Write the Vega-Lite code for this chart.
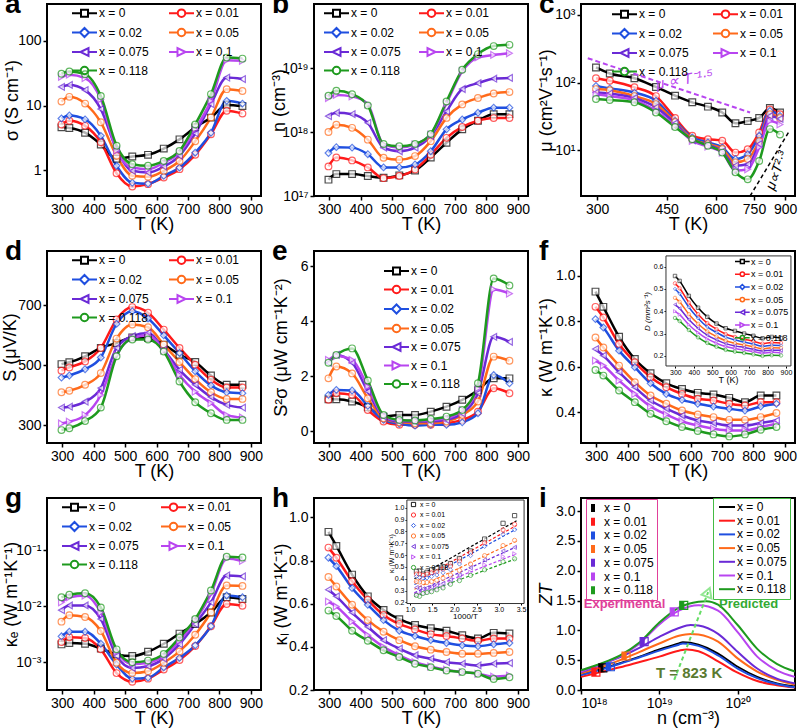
{
"$schema":"https://vega.github.io/schema/vega-lite/v6.json",
"padding":{"left":0,"top":-10,"right":2,"bottom":0},
"background":"white",
"datasets":{
"main":[
{"x":"x = 0","T":298,"sig":4.6,"n":1.8e17,"mu":167,"S":503,"PF":1.17,"k":0.931,"ke":0.00208,"kl":0.933,"D":0.558,"it":3.356},
{"x":"x = 0","T":323,"sig":4.5,"n":2.2e17,"mu":136,"S":509,"PF":1.17,"k":0.864,"ke":0.0022,"kl":0.868,"D":0.536,"it":3.096},
{"x":"x = 0","T":373,"sig":3.8,"n":2.2e17,"mu":116,"S":529,"PF":1.09,"k":0.732,"ke":0.00214,"kl":0.735,"D":0.469,"it":2.681},
{"x":"x = 0","T":423,"sig":2.5,"n":2.05e17,"mu":86,"S":557,"PF":0.88,"k":0.634,"ke":0.00176,"kl":0.634,"D":0.416,"it":2.364},
{"x":"x = 0","T":473,"sig":1.5,"n":1.93e17,"mu":64,"S":573,"PF":0.54,"k":0.571,"ke":0.00138,"kl":0.571,"D":0.375,"it":2.114},
{"x":"x = 0","T":523,"sig":1.63,"n":2.1e17,"mu":51,"S":592,"PF":0.6,"k":0.527,"ke":0.00129,"kl":0.528,"D":0.345,"it":1.912},
{"x":"x = 0","T":573,"sig":1.73,"n":2.5e17,"mu":44,"S":590,"PF":0.6,"k":0.502,"ke":0.00154,"kl":0.501,"D":0.324,"it":1.745},
{"x":"x = 0","T":623,"sig":2.16,"n":4e17,"mu":36,"S":568,"PF":0.72,"k":0.485,"ke":0.00214,"kl":0.486,"D":0.312,"it":1.605},
{"x":"x = 0","T":673,"sig":3.0,"n":6.8e17,"mu":25,"S":534,"PF":0.9,"k":0.478,"ke":0.00324,"kl":0.475,"D":0.3,"it":1.486},
{"x":"x = 0","T":723,"sig":4.6,"n":1.1e18,"mu":27,"S":510,"PF":1.15,"k":0.463,"ke":0.0048,"kl":0.454,"D":0.29,"it":1.383},
{"x":"x = 0","T":773,"sig":6.5,"n":1.5e18,"mu":30,"S":465,"PF":1.5,"k":0.444,"ke":0.0077,"kl":0.439,"D":0.279,"it":1.294},
{"x":"x = 0","T":823,"sig":10.2,"n":1.9e18,"mu":42,"S":434,"PF":1.93,"k":0.473,"ke":0.0144,"kl":0.465,"D":0.285,"it":1.215},
{"x":"x = 0","T":873,"sig":9.8,"n":1.9e18,"mu":36,"S":434,"PF":1.93,"k":0.473,"ke":0.0134,"kl":0.462,"D":0.28,"it":1.145},
{"x":"x = 0.01","T":298,"sig":5.1,"n":2.9e17,"mu":116,"S":481,"PF":1.15,"k":0.864,"ke":0.0023,"kl":0.86,"D":0.525,"it":3.356},
{"x":"x = 0.01","T":323,"sig":5.8,"n":4e17,"mu":106,"S":492,"PF":1.39,"k":0.817,"ke":0.0028,"kl":0.813,"D":0.503,"it":3.096},
{"x":"x = 0.01","T":373,"sig":4.85,"n":3.6e17,"mu":85,"S":512,"PF":1.33,"k":0.70,"ke":0.0027,"kl":0.704,"D":0.439,"it":2.681},
{"x":"x = 0.01","T":423,"sig":2.7,"n":2.8e17,"mu":63,"S":557,"PF":0.78,"k":0.62,"ke":0.0017,"kl":0.618,"D":0.387,"it":2.364},
{"x":"x = 0.01","T":473,"sig":0.9,"n":1.9e17,"mu":30,"S":652,"PF":0.36,"k":0.554,"ke":0.00064,"kl":0.548,"D":0.347,"it":2.114},
{"x":"x = 0.01","T":523,"sig":0.56,"n":2.05e17,"mu":16.3,"S":693,"PF":0.24,"k":0.51,"ke":0.00045,"kl":0.506,"D":0.32,"it":1.912},
{"x":"x = 0.01","T":573,"sig":0.61,"n":2.6e17,"mu":14.5,"S":674,"PF":0.24,"k":0.48,"ke":0.00051,"kl":0.481,"D":0.298,"it":1.745},
{"x":"x = 0.01","T":623,"sig":0.77,"n":4.4e17,"mu":13.8,"S":618,"PF":0.24,"k":0.459,"ke":0.00074,"kl":0.459,"D":0.285,"it":1.605},
{"x":"x = 0.01","T":673,"sig":1.04,"n":8.1e17,"mu":9.2,"S":557,"PF":0.3,"k":0.451,"ke":0.0011,"kl":0.45,"D":0.275,"it":1.486},
{"x":"x = 0.01","T":723,"sig":1.73,"n":1.2e18,"mu":10.3,"S":501,"PF":0.42,"k":0.437,"ke":0.00194,"kl":0.439,"D":0.266,"it":1.383},
{"x":"x = 0.01","T":773,"sig":3.6,"n":1.5e18,"mu":18.3,"S":451,"PF":0.72,"k":0.429,"ke":0.0044,"kl":0.428,"D":0.255,"it":1.294},
{"x":"x = 0.01","T":823,"sig":8.3,"n":1.65e18,"mu":40,"S":425,"PF":1.57,"k":0.444,"ke":0.0109,"kl":0.439,"D":0.26,"it":1.215},
{"x":"x = 0.01","T":873,"sig":7.5,"n":1.65e18,"mu":34,"S":425,"PF":1.39,"k":0.444,"ke":0.0102,"kl":0.439,"D":0.258,"it":1.145},
{"x":"x = 0.02","T":298,"sig":6.3,"n":4.7e17,"mu":89,"S":458,"PF":1.33,"k":0.81,"ke":0.0029,"kl":0.813,"D":0.5,"it":3.356},
{"x":"x = 0.02","T":323,"sig":7.0,"n":5.8e17,"mu":82,"S":465,"PF":1.51,"k":0.773,"ke":0.0035,"kl":0.774,"D":0.479,"it":3.096},
{"x":"x = 0.02","T":373,"sig":6.1,"n":5.7e17,"mu":71,"S":486,"PF":1.49,"k":0.671,"ke":0.0035,"kl":0.673,"D":0.418,"it":2.681},
{"x":"x = 0.02","T":423,"sig":3.4,"n":4.5e17,"mu":54,"S":525,"PF":0.93,"k":0.598,"ke":0.00214,"kl":0.595,"D":0.369,"it":2.364},
{"x":"x = 0.02","T":473,"sig":1.17,"n":2.8e17,"mu":27,"S":637,"PF":0.42,"k":0.527,"ke":0.00091,"kl":0.524,"D":0.33,"it":2.114},
{"x":"x = 0.02","T":523,"sig":0.64,"n":2.8e17,"mu":15.4,"S":679,"PF":0.28,"k":0.48,"ke":0.00051,"kl":0.475,"D":0.305,"it":1.912},
{"x":"x = 0.02","T":573,"sig":0.62,"n":3.1e17,"mu":13,"S":655,"PF":0.21,"k":0.454,"ke":0.00053,"kl":0.45,"D":0.284,"it":1.745},
{"x":"x = 0.02","T":623,"sig":0.82,"n":5e17,"mu":11,"S":599,"PF":0.24,"k":0.437,"ke":0.00081,"kl":0.431,"D":0.271,"it":1.605},
{"x":"x = 0.02","T":673,"sig":1.1,"n":1.1e18,"mu":7.4,"S":540,"PF":0.24,"k":0.425,"ke":0.0012,"kl":0.418,"D":0.262,"it":1.486},
{"x":"x = 0.02","T":723,"sig":1.87,"n":1.57e18,"mu":8.7,"S":479,"PF":0.33,"k":0.415,"ke":0.002,"kl":0.407,"D":0.253,"it":1.383},
{"x":"x = 0.02","T":773,"sig":3.8,"n":2e18,"mu":16.3,"S":432,"PF":0.66,"k":0.407,"ke":0.0044,"kl":0.403,"D":0.243,"it":1.294},
{"x":"x = 0.02","T":823,"sig":11.8,"n":2.4e18,"mu":38,"S":409,"PF":2.05,"k":0.425,"ke":0.0155,"kl":0.412,"D":0.248,"it":1.215},
{"x":"x = 0.02","T":873,"sig":10.7,"n":2.4e18,"mu":32,"S":406,"PF":1.75,"k":0.437,"ke":0.0144,"kl":0.418,"D":0.247,"it":1.145},
{"x":"x = 0.05","T":298,"sig":11.5,"n":1e18,"mu":80,"S":409,"PF":1.93,"k":0.729,"ke":0.0053,"kl":0.724,"D":0.46,"it":3.356},
{"x":"x = 0.05","T":323,"sig":13.6,"n":1.3e18,"mu":77,"S":414,"PF":2.36,"k":0.685,"ke":0.0069,"kl":0.68,"D":0.442,"it":3.096},
{"x":"x = 0.05","T":373,"sig":10.7,"n":1.16e18,"mu":63,"S":434,"PF":2.11,"k":0.605,"ke":0.0064,"kl":0.595,"D":0.387,"it":2.681},
{"x":"x = 0.05","T":423,"sig":5.5,"n":7.6e17,"mu":48,"S":473,"PF":1.21,"k":0.532,"ke":0.0036,"kl":0.524,"D":0.344,"it":2.364},
{"x":"x = 0.05","T":473,"sig":1.67,"n":3.96e17,"mu":26,"S":588,"PF":0.48,"k":0.473,"ke":0.00098,"kl":0.47,"D":0.31,"it":2.114},
{"x":"x = 0.05","T":523,"sig":0.82,"n":3.7e17,"mu":14.5,"S":635,"PF":0.33,"k":0.437,"ke":0.00064,"kl":0.431,"D":0.287,"it":1.912},
{"x":"x = 0.05","T":573,"sig":0.79,"n":4.2e17,"mu":12.3,"S":626,"PF":0.3,"k":0.407,"ke":0.00069,"kl":0.403,"D":0.268,"it":1.745},
{"x":"x = 0.05","T":623,"sig":0.98,"n":7.2e17,"mu":10.4,"S":568,"PF":0.3,"k":0.39,"ke":0.00098,"kl":0.387,"D":0.257,"it":1.605},
{"x":"x = 0.05","T":673,"sig":1.39,"n":1.66e18,"mu":6.6,"S":510,"PF":0.36,"k":0.378,"ke":0.00156,"kl":0.376,"D":0.249,"it":1.486},
{"x":"x = 0.05","T":723,"sig":2.8,"n":2.7e18,"mu":7.4,"S":453,"PF":0.6,"k":0.366,"ke":0.0031,"kl":0.368,"D":0.241,"it":1.383},
{"x":"x = 0.05","T":773,"sig":6.5,"n":3.4e18,"mu":13.7,"S":409,"PF":1.09,"k":0.366,"ke":0.0077,"kl":0.368,"D":0.232,"it":1.294},
{"x":"x = 0.05","T":823,"sig":17.9,"n":4e18,"mu":34,"S":387,"PF":2.72,"k":0.378,"ke":0.0234,"kl":0.372,"D":0.237,"it":1.215},
{"x":"x = 0.05","T":873,"sig":16.8,"n":4.2e18,"mu":30,"S":387,"PF":2.57,"k":0.396,"ke":0.023,"kl":0.376,"D":0.236,"it":1.145},
{"x":"x = 0.075","T":298,"sig":19.4,"n":1.77e18,"mu":71,"S":358,"PF":2.5,"k":0.678,"ke":0.0085,"kl":0.665,"D":0.43,"it":3.356},
{"x":"x = 0.075","T":323,"sig":20.8,"n":2e18,"mu":69,"S":361,"PF":2.78,"k":0.649,"ke":0.0103,"kl":0.634,"D":0.413,"it":3.096},
{"x":"x = 0.075","T":373,"sig":17.3,"n":1.9e18,"mu":59,"S":378,"PF":2.5,"k":0.576,"ke":0.0103,"kl":0.559,"D":0.363,"it":2.681},
{"x":"x = 0.075","T":423,"sig":8.8,"n":1.39e18,"mu":43,"S":423,"PF":1.45,"k":0.51,"ke":0.0059,"kl":0.493,"D":0.324,"it":2.364},
{"x":"x = 0.075","T":473,"sig":2.1,"n":5.7e17,"mu":25,"S":557,"PF":0.54,"k":0.451,"ke":0.00129,"kl":0.431,"D":0.293,"it":2.114},
{"x":"x = 0.075","T":523,"sig":0.98,"n":5e17,"mu":14,"S":596,"PF":0.36,"k":0.415,"ke":0.00079,"kl":0.392,"D":0.272,"it":1.912},
{"x":"x = 0.075","T":573,"sig":0.92,"n":5.7e17,"mu":12,"S":607,"PF":0.36,"k":0.385,"ke":0.00085,"kl":0.361,"D":0.255,"it":1.745},
{"x":"x = 0.075","T":623,"sig":1.14,"n":8.6e17,"mu":9.6,"S":551,"PF":0.36,"k":0.363,"ke":0.00116,"kl":0.345,"D":0.245,"it":1.605},
{"x":"x = 0.075","T":673,"sig":1.67,"n":2.1e18,"mu":5.9,"S":484,"PF":0.42,"k":0.352,"ke":0.0021,"kl":0.329,"D":0.238,"it":1.486},
{"x":"x = 0.075","T":723,"sig":3.7,"n":4.7e18,"mu":6.2,"S":434,"PF":0.66,"k":0.341,"ke":0.0048,"kl":0.322,"D":0.23,"it":1.383},
{"x":"x = 0.075","T":773,"sig":10.5,"n":5.8e18,"mu":12.3,"S":393,"PF":1.39,"k":0.341,"ke":0.0117,"kl":0.314,"D":0.222,"it":1.294},
{"x":"x = 0.075","T":823,"sig":27,"n":6.8e18,"mu":32,"S":367,"PF":3.44,"k":0.352,"ke":0.0354,"kl":0.322,"D":0.226,"it":1.215},
{"x":"x = 0.075","T":873,"sig":25.6,"n":7e18,"mu":29,"S":358,"PF":3.26,"k":0.363,"ke":0.034,"kl":0.325,"D":0.225,"it":1.145},
{"x":"x = 0.1","T":298,"sig":27.8,"n":3.4e18,"mu":67,"S":305,"PF":2.6,"k":0.627,"ke":0.0117,"kl":0.61,"D":0.4,"it":3.356},
{"x":"x = 0.1","T":323,"sig":30,"n":3.8e18,"mu":63,"S":311,"PF":2.74,"k":0.605,"ke":0.0144,"kl":0.587,"D":0.385,"it":3.096},
{"x":"x = 0.1","T":373,"sig":26.5,"n":3.6e18,"mu":55,"S":333,"PF":2.6,"k":0.539,"ke":0.0155,"kl":0.517,"D":0.34,"it":2.681},
{"x":"x = 0.1","T":423,"sig":12.5,"n":2.7e18,"mu":38,"S":400,"PF":1.63,"k":0.48,"ke":0.0077,"kl":0.454,"D":0.304,"it":2.364},
{"x":"x = 0.1","T":473,"sig":2.0,"n":6.4e17,"mu":23,"S":534,"PF":0.57,"k":0.425,"ke":0.00156,"kl":0.4,"D":0.276,"it":2.114},
{"x":"x = 0.1","T":523,"sig":1.1,"n":5.7e17,"mu":13.7,"S":590,"PF":0.4,"k":0.39,"ke":0.00093,"kl":0.361,"D":0.257,"it":1.912},
{"x":"x = 0.1","T":573,"sig":1.04,"n":6.4e17,"mu":11.3,"S":599,"PF":0.4,"k":0.36,"ke":0.00098,"kl":0.329,"D":0.242,"it":1.745},
{"x":"x = 0.1","T":623,"sig":1.31,"n":9.1e17,"mu":9.2,"S":548,"PF":0.42,"k":0.341,"ke":0.00129,"kl":0.309,"D":0.233,"it":1.605},
{"x":"x = 0.1","T":673,"sig":1.87,"n":2.8e18,"mu":5.0,"S":467,"PF":0.48,"k":0.327,"ke":0.0024,"kl":0.294,"D":0.226,"it":1.486},
{"x":"x = 0.1","T":723,"sig":4.3,"n":8.9e18,"mu":5.2,"S":411,"PF":0.78,"k":0.319,"ke":0.0055,"kl":0.283,"D":0.22,"it":1.383},
{"x":"x = 0.1","T":773,"sig":11.8,"n":1.46e19,"mu":11,"S":373,"PF":1.57,"k":0.319,"ke":0.0166,"kl":0.275,"D":0.212,"it":1.294},
{"x":"x = 0.1","T":823,"sig":50,"n":1.6e19,"mu":27,"S":333,"PF":5.16,"k":0.334,"ke":0.071,"kl":0.262,"D":0.216,"it":1.215},
{"x":"x = 0.1","T":873,"sig":49,"n":1.7e19,"mu":24,"S":325,"PF":5.01,"k":0.349,"ke":0.064,"kl":0.267,"D":0.214,"it":1.145},
{"x":"x = 0.118","T":298,"sig":31,"n":3.7e18,"mu":57,"S":283,"PF":2.5,"k":0.586,"ke":0.0144,"kl":0.568,"D":0.37,"it":3.356},
{"x":"x = 0.118","T":323,"sig":33.6,"n":4.4e18,"mu":55,"S":289,"PF":2.78,"k":0.561,"ke":0.016,"kl":0.543,"D":0.356,"it":3.096},
{"x":"x = 0.118","T":373,"sig":30.5,"n":3.9e18,"mu":51,"S":313,"PF":3.02,"k":0.495,"ke":0.017,"kl":0.475,"D":0.316,"it":2.681},
{"x":"x = 0.118","T":423,"sig":14,"n":2.6e18,"mu":36,"S":358,"PF":1.85,"k":0.444,"ke":0.0095,"kl":0.428,"D":0.283,"it":2.364},
{"x":"x = 0.118","T":473,"sig":2.4,"n":6.5e17,"mu":22,"S":529,"PF":0.6,"k":0.393,"ke":0.0017,"kl":0.384,"D":0.258,"it":2.114},
{"x":"x = 0.118","T":523,"sig":1.24,"n":6e17,"mu":14.5,"S":585,"PF":0.42,"k":0.36,"ke":0.001,"kl":0.353,"D":0.241,"it":1.912},
{"x":"x = 0.118","T":573,"sig":1.17,"n":6.5e17,"mu":11.6,"S":585,"PF":0.4,"k":0.334,"ke":0.00107,"kl":0.322,"D":0.227,"it":1.745},
{"x":"x = 0.118","T":623,"sig":1.39,"n":9.3e17,"mu":9.2,"S":545,"PF":0.45,"k":0.317,"ke":0.00141,"kl":0.306,"D":0.219,"it":1.605},
{"x":"x = 0.118","T":673,"sig":1.99,"n":3e18,"mu":4.7,"S":445,"PF":0.54,"k":0.302,"ke":0.00275,"kl":0.29,"D":0.213,"it":1.486},
{"x":"x = 0.118","T":723,"sig":5.1,"n":9.4e18,"mu":3.7,"S":376,"PF":0.78,"k":0.293,"ke":0.0059,"kl":0.283,"D":0.207,"it":1.383},
{"x":"x = 0.118","T":773,"sig":15,"n":1.65e19,"mu":6.9,"S":339,"PF":1.75,"k":0.302,"ke":0.019,"kl":0.275,"D":0.2,"it":1.294},
{"x":"x = 0.118","T":823,"sig":55,"n":2.2e19,"mu":20.5,"S":317,"PF":5.56,"k":0.322,"ke":0.076,"kl":0.251,"D":0.203,"it":1.215},
{"x":"x = 0.118","T":873,"sig":53,"n":2.3e19,"mu":17,"S":317,"PF":5.31,"k":0.334,"ke":0.074,"kl":0.259,"D":0.202,"it":1.145}
],
"fits":[
{"x":"x = 0","it":1.1,"kl":0.40},{"x":"x = 0","it":3.4,"kl":0.89},
{"x":"x = 0.01","it":1.1,"kl":0.37},{"x":"x = 0.01","it":3.4,"kl":0.85},
{"x":"x = 0.02","it":1.1,"kl":0.35},{"x":"x = 0.02","it":3.4,"kl":0.82},
{"x":"x = 0.05","it":1.1,"kl":0.31},{"x":"x = 0.05","it":3.4,"kl":0.72},
{"x":"x = 0.075","it":1.1,"kl":0.28},{"x":"x = 0.075","it":3.4,"kl":0.67},
{"x":"x = 0.1","it":1.1,"kl":0.27},{"x":"x = 0.1","it":3.4,"kl":0.61},
{"x":"x = 0.118","it":1.1,"kl":0.25},{"x":"x = 0.118","it":3.4,"kl":0.57}
],
"zt":[
{"xp":"x = 0","n":1e18,"zt":0.26},{"xp":"x = 0","n":1.778e18,"zt":0.35},{"xp":"x = 0","n":3.162e18,"zt":0.45},{"xp":"x = 0","n":5.623e18,"zt":0.56},{"xp":"x = 0","n":1e19,"zt":0.68},{"xp":"x = 0","n":1.778e19,"zt":0.78},{"xp":"x = 0","n":1.995e19,"zt":0.8},{"xp":"x = 0","n":3.162e19,"zt":0.76},{"xp":"x = 0","n":5.623e19,"zt":0.61},{"xp":"x = 0","n":1e20,"zt":0.39},{"xp":"x = 0","n":1.778e20,"zt":0.22},{"xp":"x = 0","n":3.162e20,"zt":0.11},{"xp":"x = 0","n":5.37e20,"zt":0.06},
{"xp":"x = 0.01","n":1e18,"zt":0.22},{"xp":"x = 0.01","n":1.778e18,"zt":0.30},{"xp":"x = 0.01","n":3.162e18,"zt":0.38},{"xp":"x = 0.01","n":5.623e18,"zt":0.47},{"xp":"x = 0.01","n":1e19,"zt":0.56},{"xp":"x = 0.01","n":1.778e19,"zt":0.66},{"xp":"x = 0.01","n":2.239e19,"zt":0.68},{"xp":"x = 0.01","n":3.162e19,"zt":0.65},{"xp":"x = 0.01","n":5.623e19,"zt":0.48},{"xp":"x = 0.01","n":1e20,"zt":0.29},{"xp":"x = 0.01","n":1.778e20,"zt":0.15},{"xp":"x = 0.01","n":3.162e20,"zt":0.08},{"xp":"x = 0.01","n":5.37e20,"zt":0.04},
{"xp":"x = 0.02","n":1e18,"zt":0.25},{"xp":"x = 0.02","n":1.778e18,"zt":0.34},{"xp":"x = 0.02","n":3.162e18,"zt":0.44},{"xp":"x = 0.02","n":5.623e18,"zt":0.55},{"xp":"x = 0.02","n":1e19,"zt":0.66},{"xp":"x = 0.02","n":1.778e19,"zt":0.76},{"xp":"x = 0.02","n":1.995e19,"zt":0.78},{"xp":"x = 0.02","n":3.162e19,"zt":0.74},{"xp":"x = 0.02","n":5.623e19,"zt":0.58},{"xp":"x = 0.02","n":1e20,"zt":0.36},{"xp":"x = 0.02","n":1.778e20,"zt":0.2},{"xp":"x = 0.02","n":3.162e20,"zt":0.1},{"xp":"x = 0.02","n":5.37e20,"zt":0.045},
{"xp":"x = 0.05","n":1e18,"zt":0.28},{"xp":"x = 0.05","n":1.778e18,"zt":0.38},{"xp":"x = 0.05","n":3.162e18,"zt":0.5},{"xp":"x = 0.05","n":5.623e18,"zt":0.64},{"xp":"x = 0.05","n":1e19,"zt":0.78},{"xp":"x = 0.05","n":1.778e19,"zt":0.91},{"xp":"x = 0.05","n":2.512e19,"zt":0.94},{"xp":"x = 0.05","n":3.162e19,"zt":0.93},{"xp":"x = 0.05","n":5.623e19,"zt":0.81},{"xp":"x = 0.05","n":1e20,"zt":0.53},{"xp":"x = 0.05","n":1.778e20,"zt":0.31},{"xp":"x = 0.05","n":3.162e20,"zt":0.17},{"xp":"x = 0.05","n":5.37e20,"zt":0.09},
{"xp":"x = 0.075","n":1e18,"zt":0.3},{"xp":"x = 0.075","n":1.778e18,"zt":0.42},{"xp":"x = 0.075","n":3.162e18,"zt":0.55},{"xp":"x = 0.075","n":5.623e18,"zt":0.71},{"xp":"x = 0.075","n":1e19,"zt":0.89},{"xp":"x = 0.075","n":1.778e19,"zt":1.04},{"xp":"x = 0.075","n":2.512e19,"zt":1.09},{"xp":"x = 0.075","n":3.162e19,"zt":1.08},{"xp":"x = 0.075","n":5.623e19,"zt":0.94},{"xp":"x = 0.075","n":1e20,"zt":0.64},{"xp":"x = 0.075","n":1.778e20,"zt":0.36},{"xp":"x = 0.075","n":3.162e20,"zt":0.19},{"xp":"x = 0.075","n":5.37e20,"zt":0.11},
{"xp":"x = 0.1","n":1e18,"zt":0.31},{"xp":"x = 0.1","n":1.778e18,"zt":0.43},{"xp":"x = 0.1","n":3.162e18,"zt":0.57},{"xp":"x = 0.1","n":5.623e18,"zt":0.78},{"xp":"x = 0.1","n":1e19,"zt":1.1},{"xp":"x = 0.1","n":1.778e19,"zt":1.33},{"xp":"x = 0.1","n":3.162e19,"zt":1.42},{"xp":"x = 0.1","n":5.623e19,"zt":1.33},{"xp":"x = 0.1","n":1e20,"zt":0.97},{"xp":"x = 0.1","n":1.778e20,"zt":0.56},{"xp":"x = 0.1","n":3.162e20,"zt":0.33},{"xp":"x = 0.1","n":5.37e20,"zt":0.22},
{"xp":"x = 0.118","n":1e18,"zt":0.33},{"xp":"x = 0.118","n":1.778e18,"zt":0.44},{"xp":"x = 0.118","n":3.162e18,"zt":0.58},{"xp":"x = 0.118","n":5.623e18,"zt":0.8},{"xp":"x = 0.118","n":1e19,"zt":1.13},{"xp":"x = 0.118","n":1.778e19,"zt":1.38},{"xp":"x = 0.118","n":3.162e19,"zt":1.48},{"xp":"x = 0.118","n":3.981e19,"zt":1.49},{"xp":"x = 0.118","n":5.623e19,"zt":1.43},{"xp":"x = 0.118","n":1e20,"zt":1.09},{"xp":"x = 0.118","n":1.778e20,"zt":0.69},{"xp":"x = 0.118","n":3.162e20,"zt":0.44},{"xp":"x = 0.118","n":5.37e20,"zt":0.31}
],
"zte":[
{"xe":"x = 0","n":1.9e18,"zt":0.37},{"xe":"x = 0.01","n":1.55e18,"zt":0.3},{"xe":"x = 0.02","n":2.37e18,"zt":0.39},{"xe":"x = 0.05","n":3.76e18,"zt":0.57},{"xe":"x = 0.075","n":6.4e18,"zt":0.81},{"xe":"x = 0.1","n":1.55e19,"zt":1.31},{"xe":"x = 0.118","n":2.05e19,"zt":1.42}
],
"plines":[
{"g":"v","T":284,"mu":229},{"g":"v","T":733,"mu":36},
{"g":"k","T":733,"mu":2.1},{"g":"k","T":917,"mu":18.2}
],
"notesc":[{"T":500,"mu":112,"lab":"μ ∝ T⁻¹·⁵","c":"v"},{"T":858,"mu":5.0,"lab":"μ∝T²·³","c":"k"}],
"notesi":[{"n":2.4e19,"zt":0.28,"lab":"T = 823 K"},{"n":3.6e18,"zt":1.44,"lab":"Experimental"},{"n":1.38e20,"zt":1.44,"lab":"Predicted"}],
"arrow":[{"n":1.55e19,"zt":0.17},{"n":4.2e19,"zt":1.64}]
},
"config":{
"font":"Liberation Sans",
"view":{"stroke":"black","strokeWidth":2},
"axis":{"grid":false,"domain":false,"labelFont":"Liberation Sans","titleFont":"Liberation Sans","labelFontSize":14,"titleFontSize":18,"titleFontWeight":"normal","labelColor":"black","titleColor":"black","tickColor":"black","tickSize":4,"tickWidth":1.5,"labelPadding":2,"titlePadding":1,"labelOverlap":false},
"axisBottom":{"titlePadding":-1},
"legend":{"labelFont":"Liberation Sans","labelFontSize":12,"labelColor":"black","padding":0,"rowPadding":2.5,"columnPadding":16,"labelOffset":16,"symbolStrokeWidth":2,"symbolSize":100},
"title":{"font":"Liberation Sans","fontSize":28,"fontWeight":"bold","anchor":"start","frame":"group","offset":0,"dx":-42,"dy":19,"baseline":"alphabetic","color":"black"}
},
"resolve":{"scale":{"color":"independent","shape":"independent","stroke":"independent"},"legend":{"color":"independent","shape":"independent","stroke":"independent"}},
"concat":[
{"title":{"text":"a"},"width":214,"height":192,"data":{"name":"main"},
 "encoding":{"x":{"field":"T","type":"quantitative","scale":{"domain":[252,932],"nice":false},"axis":{"values":[300,400,500,600,700,800,900],"title":"T (K)"}}},
 "layer":[
  {"mark":{"type":"line","interpolate":"monotone","strokeWidth":2.5},
   "encoding":{"y":{"field":"sig","type":"quantitative","scale":{"type":"log","domain":[0.4,370],"nice":false},"axis":{"values":[1,10,100],"format":"d","title":"σ (S cm⁻¹)","titleX":-35,"titleY":96,"titleBaseline":"middle"}},
    "color":{"field":"x","type":"nominal","scale":{"domain":["x = 0","x = 0.01","x = 0.02","x = 0.05","x = 0.075","x = 0.1","x = 0.118"],"range":["#000000","#ff1a1a","#1f4fe0","#ff6a1a","#6a2ad6","#b845f0","#1e9a1e"]},"legend":{"title":null,"orient":"none","legendX":24,"legendY":3,"columns":2,"direction":"horizontal","symbolSize":100,"columnPadding":16,"rowPadding":2.5,"labelOffset":16}}}},
  {"mark":{"type":"point","filled":false,"fill":"white","size":45,"strokeWidth":1.2},
   "encoding":{"y":{"field":"sig","type":"quantitative"},"color":{"field":"x","type":"nominal","legend":null},
    "shape":{"condition":[{"test":"datum.x=='x = 0'","value":"square"},{"test":"datum.x=='x = 0.02'","value":"diamond"},{"test":"datum.x=='x = 0.075'","value":"triangle-left"},{"test":"datum.x=='x = 0.1'","value":"triangle-right"}],"value":"circle"}}},
  {"transform":[{"filter":"false"}],"mark":{"type":"point","filled":false,"strokeWidth":2},
   "encoding":{"y":{"field":"sig","type":"quantitative"},"color":{"field":"x","type":"nominal","legend":null},
    "shape":{"field":"x","type":"nominal","scale":{"domain":["x = 0","x = 0.01","x = 0.02","x = 0.05","x = 0.075","x = 0.1","x = 0.118"],"range":["M-1,0H0.8M2.2,0H4M0.8,-0.7H2.2V0.7H0.8Z","M-1,0H0.75M2.25,0H4M0.75,0A0.75,0.75 0 1,0 2.25,0A0.75,0.75 0 1,0 0.75,0Z","M-1,0H0.6M2.4,0H4M0.6,0L1.5,-0.9L2.4,0L1.5,0.9Z","M-1,0H0.75M2.25,0H4M0.75,0A0.75,0.75 0 1,0 2.25,0A0.75,0.75 0 1,0 0.75,0Z","M-1,0H0.7M2.3,0H4M0.7,0L2.3,-0.8L2.3,0.8Z","M-1,0H0.7M2.3,0H4M2.3,0L0.7,-0.8L0.7,0.8Z","M-1,0H0.75M2.25,0H4M0.75,0A0.75,0.75 0 1,0 2.25,0A0.75,0.75 0 1,0 0.75,0Z"]},"legend":null}}}
 ]},
{"title":{"text":"b"},"width":214,"height":192,"data":{"name":"main"},
 "encoding":{"x":{"field":"T","type":"quantitative","scale":{"domain":[252,932],"nice":false},"axis":{"values":[300,400,500,600,700,800,900],"title":"T (K)"}}},
 "layer":[
  {"mark":{"type":"line","interpolate":"monotone","strokeWidth":2.5},
   "encoding":{"y":{"field":"n","type":"quantitative","scale":{"type":"log","domain":[1e17,1e20],"nice":false},"axis":{"values":[1e17,1e18,1e19],"labelExpr":"datum.value<5e17?'10¹⁷':datum.value<5e18?'10¹⁸':'10¹⁹'","title":"n (cm⁻³)","titleX":-35,"titleY":96,"titleBaseline":"middle"}},
    "color":{"field":"x","type":"nominal","scale":{"domain":["x = 0","x = 0.01","x = 0.02","x = 0.05","x = 0.075","x = 0.1","x = 0.118"],"range":["#000000","#ff1a1a","#1f4fe0","#ff6a1a","#6a2ad6","#b845f0","#1e9a1e"]},"legend":{"title":null,"orient":"none","legendX":9,"legendY":3,"columns":2,"direction":"horizontal","symbolSize":100,"columnPadding":14,"rowPadding":2.5,"labelOffset":16}}}},
  {"mark":{"type":"point","filled":false,"fill":"white","size":45,"strokeWidth":1.2},
   "encoding":{"y":{"field":"n","type":"quantitative"},"color":{"field":"x","type":"nominal","legend":null},
    "shape":{"condition":[{"test":"datum.x=='x = 0'","value":"square"},{"test":"datum.x=='x = 0.02'","value":"diamond"},{"test":"datum.x=='x = 0.075'","value":"triangle-left"},{"test":"datum.x=='x = 0.1'","value":"triangle-right"}],"value":"circle"}}},
  {"transform":[{"filter":"false"}],"mark":{"type":"point","filled":false,"strokeWidth":2},
   "encoding":{"y":{"field":"n","type":"quantitative"},"color":{"field":"x","type":"nominal","legend":null},
    "shape":{"field":"x","type":"nominal","scale":{"domain":["x = 0","x = 0.01","x = 0.02","x = 0.05","x = 0.075","x = 0.1","x = 0.118"],"range":["M-1,0H0.8M2.2,0H4M0.8,-0.7H2.2V0.7H0.8Z","M-1,0H0.75M2.25,0H4M0.75,0A0.75,0.75 0 1,0 2.25,0A0.75,0.75 0 1,0 0.75,0Z","M-1,0H0.6M2.4,0H4M0.6,0L1.5,-0.9L2.4,0L1.5,0.9Z","M-1,0H0.75M2.25,0H4M0.75,0A0.75,0.75 0 1,0 2.25,0A0.75,0.75 0 1,0 0.75,0Z","M-1,0H0.7M2.3,0H4M0.7,0L2.3,-0.8L2.3,0.8Z","M-1,0H0.7M2.3,0H4M2.3,0L0.7,-0.8L0.7,0.8Z","M-1,0H0.75M2.25,0H4M0.75,0A0.75,0.75 0 1,0 2.25,0A0.75,0.75 0 1,0 0.75,0Z"]},"legend":null}}}
 ]},
{"title":{"text":"c"},"width":214,"height":192,
 "encoding":{"x":{"field":"T","type":"quantitative","scale":{"type":"log","domain":[273,953],"nice":false},"axis":{"values":[300,450,600,750,900],"title":"T (K)"}}},
 "layer":[
  {"data":{"name":"main"},"mark":{"type":"line","interpolate":"monotone","strokeWidth":2.5},
   "encoding":{"y":{"field":"mu","type":"quantitative","scale":{"type":"log","domain":[2.1,1450],"nice":false},"axis":{"values":[10,100,1000],"labelExpr":"datum.value<50?'10¹':datum.value<500?'10²':'10³'","title":"μ (cm²V⁻¹s⁻¹)","titleX":-35,"titleY":96,"titleBaseline":"middle"}},
    "color":{"field":"x","type":"nominal","scale":{"domain":["x = 0","x = 0.01","x = 0.02","x = 0.05","x = 0.075","x = 0.1","x = 0.118"],"range":["#000000","#ff1a1a","#1f4fe0","#ff6a1a","#6a2ad6","#b845f0","#1e9a1e"]},"legend":{"title":null,"orient":"none","legendX":30,"legendY":4,"columns":2,"direction":"horizontal","symbolSize":100,"columnPadding":20,"rowPadding":2.5,"labelOffset":16}}}},
  {"data":{"name":"main"},"mark":{"type":"point","filled":false,"fill":"white","size":45,"strokeWidth":1.2},
   "encoding":{"y":{"field":"mu","type":"quantitative"},"color":{"field":"x","type":"nominal","legend":null},
    "shape":{"condition":[{"test":"datum.x=='x = 0'","value":"square"},{"test":"datum.x=='x = 0.02'","value":"diamond"},{"test":"datum.x=='x = 0.075'","value":"triangle-left"},{"test":"datum.x=='x = 0.1'","value":"triangle-right"}],"value":"circle"}}},
  {"data":{"name":"main"},"transform":[{"filter":"false"}],"mark":{"type":"point","filled":false,"strokeWidth":2},
   "encoding":{"y":{"field":"mu","type":"quantitative"},"color":{"field":"x","type":"nominal","legend":null},
    "shape":{"field":"x","type":"nominal","scale":{"domain":["x = 0","x = 0.01","x = 0.02","x = 0.05","x = 0.075","x = 0.1","x = 0.118"],"range":["M-1,0H0.8M2.2,0H4M0.8,-0.7H2.2V0.7H0.8Z","M-1,0H0.75M2.25,0H4M0.75,0A0.75,0.75 0 1,0 2.25,0A0.75,0.75 0 1,0 0.75,0Z","M-1,0H0.6M2.4,0H4M0.6,0L1.5,-0.9L2.4,0L1.5,0.9Z","M-1,0H0.75M2.25,0H4M0.75,0A0.75,0.75 0 1,0 2.25,0A0.75,0.75 0 1,0 0.75,0Z","M-1,0H0.7M2.3,0H4M0.7,0L2.3,-0.8L2.3,0.8Z","M-1,0H0.7M2.3,0H4M2.3,0L0.7,-0.8L0.7,0.8Z","M-1,0H0.75M2.25,0H4M0.75,0A0.75,0.75 0 1,0 2.25,0A0.75,0.75 0 1,0 0.75,0Z"]},"legend":null}}},
  {"data":{"name":"plines"},"transform":[{"filter":"datum.g=='v'"}],"mark":{"type":"line","color":"#b845f0","strokeDash":[5,3],"strokeWidth":2,"clip":true},
   "encoding":{"y":{"field":"mu","type":"quantitative"}}},
  {"data":{"name":"plines"},"transform":[{"filter":"datum.g=='k'"}],"mark":{"type":"line","color":"black","strokeDash":[4,3],"strokeWidth":1.5,"clip":true},
   "encoding":{"y":{"field":"mu","type":"quantitative"}}},
  {"data":{"name":"notesc"},"transform":[{"filter":"datum.c=='v'"}],"mark":{"type":"text","color":"#b845f0","fontSize":15,"fontStyle":"italic","angle":350},
   "encoding":{"y":{"field":"mu","type":"quantitative"},"text":{"field":"lab","type":"nominal"}}},
  {"data":{"name":"notesc"},"transform":[{"filter":"datum.c=='k'"}],"mark":{"type":"text","color":"black","fontSize":14,"fontStyle":"italic","angle":290},
   "encoding":{"y":{"field":"mu","type":"quantitative"},"text":{"field":"lab","type":"nominal"}}}
 ]},
{"title":{"text":"d"},"width":214,"height":192,"data":{"name":"main"},
 "encoding":{"x":{"field":"T","type":"quantitative","scale":{"domain":[252,932],"nice":false},"axis":{"values":[300,400,500,600,700,800,900],"title":"T (K)"}}},
 "layer":[
  {"mark":{"type":"line","interpolate":"monotone","strokeWidth":2.5},
   "encoding":{"y":{"field":"S","type":"quantitative","scale":{"domain":[240,880],"nice":false},"axis":{"values":[300,400,500,600,700,800],"title":"S (μV/K)","titleX":-37,"titleY":96,"titleBaseline":"middle"}},
    "color":{"field":"x","type":"nominal","scale":{"domain":["x = 0","x = 0.01","x = 0.02","x = 0.05","x = 0.075","x = 0.1","x = 0.118"],"range":["#000000","#ff1a1a","#1f4fe0","#ff6a1a","#6a2ad6","#b845f0","#1e9a1e"]},"legend":{"title":null,"orient":"none","legendX":24,"legendY":3,"columns":2,"direction":"horizontal","symbolSize":100,"columnPadding":16,"rowPadding":2.5,"labelOffset":16}}}},
  {"mark":{"type":"point","filled":false,"fill":"white","size":45,"strokeWidth":1.2},
   "encoding":{"y":{"field":"S","type":"quantitative"},"color":{"field":"x","type":"nominal","legend":null},
    "shape":{"condition":[{"test":"datum.x=='x = 0'","value":"square"},{"test":"datum.x=='x = 0.02'","value":"diamond"},{"test":"datum.x=='x = 0.075'","value":"triangle-left"},{"test":"datum.x=='x = 0.1'","value":"triangle-right"}],"value":"circle"}}},
  {"transform":[{"filter":"false"}],"mark":{"type":"point","filled":false,"strokeWidth":2},
   "encoding":{"y":{"field":"S","type":"quantitative"},"color":{"field":"x","type":"nominal","legend":null},
    "shape":{"field":"x","type":"nominal","scale":{"domain":["x = 0","x = 0.01","x = 0.02","x = 0.05","x = 0.075","x = 0.1","x = 0.118"],"range":["M-1,0H0.8M2.2,0H4M0.8,-0.7H2.2V0.7H0.8Z","M-1,0H0.75M2.25,0H4M0.75,0A0.75,0.75 0 1,0 2.25,0A0.75,0.75 0 1,0 0.75,0Z","M-1,0H0.6M2.4,0H4M0.6,0L1.5,-0.9L2.4,0L1.5,0.9Z","M-1,0H0.75M2.25,0H4M0.75,0A0.75,0.75 0 1,0 2.25,0A0.75,0.75 0 1,0 0.75,0Z","M-1,0H0.7M2.3,0H4M0.7,0L2.3,-0.8L2.3,0.8Z","M-1,0H0.7M2.3,0H4M2.3,0L0.7,-0.8L0.7,0.8Z","M-1,0H0.75M2.25,0H4M0.75,0A0.75,0.75 0 1,0 2.25,0A0.75,0.75 0 1,0 0.75,0Z"]},"legend":null}}}
 ]},
{"title":{"text":"e"},"width":214,"height":192,"data":{"name":"main"},
 "encoding":{"x":{"field":"T","type":"quantitative","scale":{"domain":[252,932],"nice":false},"axis":{"values":[300,400,500,600,700,800,900],"title":"T (K)"}}},
 "layer":[
  {"mark":{"type":"line","interpolate":"monotone","strokeWidth":2.5},
   "encoding":{"y":{"field":"PF","type":"quantitative","scale":{"domain":[-0.42,6.56],"nice":false},"axis":{"values":[0,2,4,6],"title":"S²σ (μW cm⁻¹K⁻²)","titleX":-33,"titleY":96,"titleBaseline":"middle"}},
    "color":{"field":"x","type":"nominal","scale":{"domain":["x = 0","x = 0.01","x = 0.02","x = 0.05","x = 0.075","x = 0.1","x = 0.118"],"range":["#000000","#ff1a1a","#1f4fe0","#ff6a1a","#6a2ad6","#b845f0","#1e9a1e"]},"legend":{"title":null,"orient":"none","legendX":69,"legendY":14,"columns":1,"symbolSize":100,"rowPadding":2.5,"labelOffset":16}}}},
  {"mark":{"type":"point","filled":false,"fill":"white","size":45,"strokeWidth":1.2},
   "encoding":{"y":{"field":"PF","type":"quantitative"},"color":{"field":"x","type":"nominal","legend":null},
    "shape":{"condition":[{"test":"datum.x=='x = 0'","value":"square"},{"test":"datum.x=='x = 0.02'","value":"diamond"},{"test":"datum.x=='x = 0.075'","value":"triangle-left"},{"test":"datum.x=='x = 0.1'","value":"triangle-right"}],"value":"circle"}}},
  {"transform":[{"filter":"false"}],"mark":{"type":"point","filled":false,"strokeWidth":2},
   "encoding":{"y":{"field":"PF","type":"quantitative"},"color":{"field":"x","type":"nominal","legend":null},
    "shape":{"field":"x","type":"nominal","scale":{"domain":["x = 0","x = 0.01","x = 0.02","x = 0.05","x = 0.075","x = 0.1","x = 0.118"],"range":["M-1,0H0.8M2.2,0H4M0.8,-0.7H2.2V0.7H0.8Z","M-1,0H0.75M2.25,0H4M0.75,0A0.75,0.75 0 1,0 2.25,0A0.75,0.75 0 1,0 0.75,0Z","M-1,0H0.6M2.4,0H4M0.6,0L1.5,-0.9L2.4,0L1.5,0.9Z","M-1,0H0.75M2.25,0H4M0.75,0A0.75,0.75 0 1,0 2.25,0A0.75,0.75 0 1,0 0.75,0Z","M-1,0H0.7M2.3,0H4M0.7,0L2.3,-0.8L2.3,0.8Z","M-1,0H0.7M2.3,0H4M2.3,0L0.7,-0.8L0.7,0.8Z","M-1,0H0.75M2.25,0H4M0.75,0A0.75,0.75 0 1,0 2.25,0A0.75,0.75 0 1,0 0.75,0Z"]},"legend":null}}}
 ]},
{"title":{"text":"f"},"width":214,"height":192,"data":{"name":"main"},
 "resolve":{"scale":{"x":"independent","y":"independent"}},
 "layer":[
  {"mark":{"type":"line","interpolate":"monotone","strokeWidth":2.5},
   "encoding":{"x":{"field":"T","type":"quantitative","scale":{"domain":[252,932],"nice":false},"axis":{"values":[300,400,500,600,700,800,900],"title":"T (K)","orient":"bottom"}},
    "y":{"field":"k","type":"quantitative","scale":{"domain":[0.264,1.11],"nice":false},"axis":{"values":[0.4,0.6,0.8,1.0],"format":".1f","title":"κ (W m⁻¹K⁻¹)","orient":"left","titleX":-35,"titleY":96,"titleBaseline":"middle"}},
    "color":{"field":"x","type":"nominal","scale":{"domain":["x = 0","x = 0.01","x = 0.02","x = 0.05","x = 0.075","x = 0.1","x = 0.118"],"range":["#000000","#ff1a1a","#1f4fe0","#ff6a1a","#6a2ad6","#b845f0","#1e9a1e"]},"legend":{"title":null,"orient":"none","legendX":153,"legendY":6,"columns":1,"symbolSize":49,"labelFontSize":9,"rowPadding":1.7,"labelOffset":8,"symbolStrokeWidth":1.5}}}},
  {"mark":{"type":"point","filled":false,"fill":"white","size":45,"strokeWidth":1.2},
   "encoding":{"x":{"field":"T","type":"quantitative","scale":{"domain":[252,932],"nice":false},"axis":null},
    "y":{"field":"k","type":"quantitative","scale":{"domain":[0.264,1.11],"nice":false},"axis":null},
    "color":{"field":"x","type":"nominal","legend":null},
    "shape":{"condition":[{"test":"datum.x=='x = 0'","value":"square"},{"test":"datum.x=='x = 0.02'","value":"diamond"},{"test":"datum.x=='x = 0.075'","value":"triangle-left"},{"test":"datum.x=='x = 0.1'","value":"triangle-right"}],"value":"circle"}}},
  {"data":{"values":[{}]},"mark":{"type":"rect","fill":"white","stroke":"#333333","strokeWidth":1},
   "encoding":{"x":{"datum":249,"type":"quantitative","scale":{"domain":[-212,949],"nice":false},"axis":{"orient":"bottom","offset":-77,"values":[300,400,500,600,700,800,900],"labelFontSize":7,"tickSize":2,"tickWidth":1,"labelPadding":0,"title":"T (K)","titleFontSize":9,"titleX":147,"titleY":9,"titleBaseline":"top"}},
    "x2":{"datum":927},
    "y":{"datum":0.155,"type":"quantitative","scale":{"domain":[-0.19,0.67],"nice":false},"axis":{"orient":"left","offset":-85,"values":[0.2,0.3,0.4,0.5,0.6],"format":".1f","labelFontSize":7,"tickSize":2,"tickWidth":1,"labelPadding":1,"title":"D (mm²s⁻¹)","titleFontSize":8,"titleFontStyle":"italic","titleX":-19,"titleY":60,"titleBaseline":"middle"}},
    "y2":{"datum":0.648}}},
  {"mark":{"type":"line","interpolate":"monotone","strokeWidth":1.5},
   "encoding":{"x":{"field":"T","type":"quantitative","scale":{"domain":[-212,949],"nice":false},"axis":null},"y":{"field":"D","type":"quantitative","scale":{"domain":[-0.19,0.67],"nice":false},"axis":null},
    "color":{"field":"x","type":"nominal","legend":null}}},
  {"mark":{"type":"point","filled":false,"fill":"white","size":12,"strokeWidth":0.8},
   "encoding":{"x":{"field":"T","type":"quantitative","scale":{"domain":[-212,949],"nice":false},"axis":null},"y":{"field":"D","type":"quantitative","scale":{"domain":[-0.19,0.67],"nice":false},"axis":null},
    "color":{"field":"x","type":"nominal","legend":null},
    "shape":{"condition":[{"test":"datum.x=='x = 0'","value":"square"},{"test":"datum.x=='x = 0.02'","value":"diamond"},{"test":"datum.x=='x = 0.075'","value":"triangle-left"},{"test":"datum.x=='x = 0.1'","value":"triangle-right"}],"value":"circle"}}},
  {"transform":[{"filter":"false"}],"mark":{"type":"point","filled":false,"strokeWidth":1.5},
   "encoding":{"x":{"field":"T","type":"quantitative","axis":null},"y":{"field":"D","type":"quantitative","axis":null},
    "color":{"field":"x","type":"nominal","legend":null},
    "shape":{"field":"x","type":"nominal","scale":{"domain":["x = 0","x = 0.01","x = 0.02","x = 0.05","x = 0.075","x = 0.1","x = 0.118"],"range":["M-1,0H0.55M1.65,0H3.2M0.55,-0.55H1.65V0.55H0.55Z","M-1,0H0.5M1.7,0H3.2M0.5,0A0.6,0.6 0 1,0 1.7,0A0.6,0.6 0 1,0 0.5,0Z","M-1,0H0.4M1.8,0H3.2M0.4,0L1.1,-0.7L1.8,0L1.1,0.7Z","M-1,0H0.5M1.7,0H3.2M0.5,0A0.6,0.6 0 1,0 1.7,0A0.6,0.6 0 1,0 0.5,0Z","M-1,0H0.45M1.75,0H3.2M0.45,0L1.75,-0.65L1.75,0.65Z","M-1,0H0.45M1.75,0H3.2M1.75,0L0.45,-0.65L0.45,0.65Z","M-1,0H0.5M1.7,0H3.2M0.5,0A0.6,0.6 0 1,0 1.7,0A0.6,0.6 0 1,0 0.5,0Z"]},"legend":null}}}
 ]},
{"title":{"text":"g"},"width":214,"height":192,"data":{"name":"main"},
 "encoding":{"x":{"field":"T","type":"quantitative","scale":{"domain":[252,932],"nice":false},"axis":{"values":[300,400,500,600,700,800,900],"title":"T (K)"}}},
 "layer":[
  {"mark":{"type":"line","interpolate":"monotone","strokeWidth":2.5},
   "encoding":{"y":{"field":"ke","type":"quantitative","scale":{"type":"log","domain":[0.00032,0.85],"nice":false},"axis":{"values":[0.001,0.01,0.1],"labelExpr":"datum.value<0.005?'10⁻³':datum.value<0.05?'10⁻²':'10⁻¹'","title":"κₑ (W m⁻¹K⁻¹)","titleX":-36,"titleY":96,"titleBaseline":"middle"}},
    "color":{"field":"x","type":"nominal","scale":{"domain":["x = 0","x = 0.01","x = 0.02","x = 0.05","x = 0.075","x = 0.1","x = 0.118"],"range":["#000000","#ff1a1a","#1f4fe0","#ff6a1a","#6a2ad6","#b845f0","#1e9a1e"]},"legend":{"title":null,"orient":"none","legendX":14,"legendY":3,"columns":2,"direction":"horizontal","symbolSize":100,"columnPadding":18,"rowPadding":2.5,"labelOffset":16}}}},
  {"mark":{"type":"point","filled":false,"fill":"white","size":45,"strokeWidth":1.2},
   "encoding":{"y":{"field":"ke","type":"quantitative"},"color":{"field":"x","type":"nominal","legend":null},
    "shape":{"condition":[{"test":"datum.x=='x = 0'","value":"square"},{"test":"datum.x=='x = 0.02'","value":"diamond"},{"test":"datum.x=='x = 0.075'","value":"triangle-left"},{"test":"datum.x=='x = 0.1'","value":"triangle-right"}],"value":"circle"}}},
  {"transform":[{"filter":"false"}],"mark":{"type":"point","filled":false,"strokeWidth":2},
   "encoding":{"y":{"field":"ke","type":"quantitative"},"color":{"field":"x","type":"nominal","legend":null},
    "shape":{"field":"x","type":"nominal","scale":{"domain":["x = 0","x = 0.01","x = 0.02","x = 0.05","x = 0.075","x = 0.1","x = 0.118"],"range":["M-1,0H0.8M2.2,0H4M0.8,-0.7H2.2V0.7H0.8Z","M-1,0H0.75M2.25,0H4M0.75,0A0.75,0.75 0 1,0 2.25,0A0.75,0.75 0 1,0 0.75,0Z","M-1,0H0.6M2.4,0H4M0.6,0L1.5,-0.9L2.4,0L1.5,0.9Z","M-1,0H0.75M2.25,0H4M0.75,0A0.75,0.75 0 1,0 2.25,0A0.75,0.75 0 1,0 0.75,0Z","M-1,0H0.7M2.3,0H4M0.7,0L2.3,-0.8L2.3,0.8Z","M-1,0H0.7M2.3,0H4M2.3,0L0.7,-0.8L0.7,0.8Z","M-1,0H0.75M2.25,0H4M0.75,0A0.75,0.75 0 1,0 2.25,0A0.75,0.75 0 1,0 0.75,0Z"]},"legend":null}}}
 ]},
{"title":{"text":"h"},"width":214,"height":192,"data":{"name":"main"},
 "resolve":{"scale":{"x":"independent","y":"independent"}},
 "layer":[
  {"mark":{"type":"line","interpolate":"monotone","strokeWidth":2.5},
   "encoding":{"x":{"field":"T","type":"quantitative","scale":{"domain":[252,932],"nice":false},"axis":{"values":[300,400,500,600,700,800,900],"title":"T (K)","orient":"bottom"}},
    "y":{"field":"kl","type":"quantitative","scale":{"domain":[0.2,1.09],"nice":false},"axis":{"values":[0.2,0.4,0.6,0.8,1.0],"format":".1f","title":"κₗ (W m⁻¹K⁻¹)","orient":"left","titleX":-33,"titleY":96,"titleBaseline":"middle"}},
    "color":{"field":"x","type":"nominal","scale":{"domain":["x = 0","x = 0.01","x = 0.02","x = 0.05","x = 0.075","x = 0.1","x = 0.118"],"range":["#000000","#ff1a1a","#1f4fe0","#ff6a1a","#6a2ad6","#b845f0","#1e9a1e"]},"legend":{"title":null,"orient":"none","legendX":96,"legendY":3,"columns":1,"symbolSize":18,"labelFontSize":7,"rowPadding":1.5,"labelOffset":3,"symbolStrokeWidth":0.9}}}},
  {"mark":{"type":"point","filled":false,"fill":"white","size":45,"strokeWidth":1.2},
   "encoding":{"x":{"field":"T","type":"quantitative","scale":{"domain":[252,932],"nice":false},"axis":null},
    "y":{"field":"kl","type":"quantitative","scale":{"domain":[0.2,1.09],"nice":false},"axis":null},
    "color":{"field":"x","type":"nominal","legend":null},
    "shape":{"condition":[{"test":"datum.x=='x = 0'","value":"square"},{"test":"datum.x=='x = 0.02'","value":"diamond"},{"test":"datum.x=='x = 0.075'","value":"triangle-left"},{"test":"datum.x=='x = 0.1'","value":"triangle-right"}],"value":"circle"}}},
  {"data":{"values":[{}]},"mark":{"type":"rect","fill":"white","stroke":"#333333","strokeWidth":1},
   "encoding":{"x":{"datum":0.93,"type":"quantitative","scale":{"domain":[-1.162,3.658],"nice":false},"axis":{"orient":"bottom","offset":-87,"values":[1.0,1.5,2.0,2.5,3.0,3.5],"format":".1f","labelFontSize":7,"tickSize":2,"tickWidth":1,"labelPadding":0,"title":"1000/T","titleFontSize":8,"titleX":151,"titleY":9,"titleBaseline":"top"}},
    "x2":{"datum":3.57},
    "y":{"datum":0.19,"type":"quantitative","scale":{"domain":[-0.541,1.082],"nice":false},"axis":{"orient":"left","offset":-93,"values":[0.2,0.3,0.4,0.5,0.6,0.7,0.8,0.9,1.0],"format":".1f","labelFontSize":7,"tickSize":2,"tickWidth":1,"labelPadding":1,"title":"κₗ (W m⁻¹K⁻¹)","titleFontSize":7,"titleX":-16,"titleY":55,"titleBaseline":"middle"}},
    "y2":{"datum":1.065}}},
  {"data":{"name":"fits"},"mark":{"type":"line","strokeDash":[3,2],"strokeWidth":1.2},
   "encoding":{"x":{"field":"it","type":"quantitative","scale":{"domain":[-1.162,3.658],"nice":false},"axis":null},"y":{"field":"kl","type":"quantitative","scale":{"domain":[-0.541,1.082],"nice":false},"axis":null},
    "color":{"field":"x","type":"nominal","legend":null}}},
  {"mark":{"type":"point","filled":false,"fill":"white","size":18,"strokeWidth":0.9},
   "encoding":{"x":{"field":"it","type":"quantitative","scale":{"domain":[-1.162,3.658],"nice":false},"axis":null},"y":{"field":"kl","type":"quantitative","scale":{"domain":[-0.541,1.082],"nice":false},"axis":null},
    "color":{"field":"x","type":"nominal","legend":null},
    "shape":{"condition":[{"test":"datum.x=='x = 0'","value":"square"},{"test":"datum.x=='x = 0.02'","value":"diamond"},{"test":"datum.x=='x = 0.075'","value":"triangle-left"},{"test":"datum.x=='x = 0.1'","value":"triangle-right"}],"value":"circle"}}},
  {"transform":[{"filter":"false"}],"mark":{"type":"point","filled":false,"strokeWidth":0.9},
   "encoding":{"x":{"field":"it","type":"quantitative","axis":null},"y":{"field":"kl","type":"quantitative","axis":null},
    "color":{"field":"x","type":"nominal","legend":null},
    "shape":{"field":"x","type":"nominal","scale":{"domain":["x = 0","x = 0.01","x = 0.02","x = 0.05","x = 0.075","x = 0.1","x = 0.118"],"range":["square","circle","diamond","circle","triangle-left","triangle-right","circle"]},"legend":null}}}
 ]},
{"title":{"text":"i"},"width":214,"height":192,
 "resolve":{"scale":{"color":"independent"}},
 "encoding":{"x":{"field":"n","type":"quantitative","scale":{"type":"log","domain":[1e18,5.4e20],"nice":false},"axis":{"values":[1e18,1e19,1e20],"labelExpr":"datum.value<5e18?'10¹⁸':datum.value<5e19?'10¹⁹':'10²⁰'","title":"n (cm⁻³)"}},
  "y":{"field":"zt","type":"quantitative","scale":{"domain":[0,3.22],"nice":false},"axis":{"values":[0,0.5,1,1.5,2,2.5,3],"format":".1f","title":"ZT","titleFontStyle":"italic","titleX":-35,"titleY":96,"titleBaseline":"middle"}}},
 "layer":[
  {"data":{"name":"zt"},"mark":{"type":"line","interpolate":"monotone","strokeWidth":2},
   "encoding":{"color":{"field":"xp","type":"nominal","scale":{"domain":["x = 0","x = 0.01","x = 0.02","x = 0.05","x = 0.075","x = 0.1","x = 0.118"],"range":["#000000","#ff1a1a","#1f4fe0","#ff6a1a","#6a2ad6","#b845f0","#1e9a1e"]},
    "legend":{"title":null,"orient":"none","legendX":132,"legendY":0,"columns":1,"symbolType":"M-0.6,0H2.6","symbolSize":100,"symbolStrokeWidth":2,"labelFontSize":12,"rowPadding":1.7,"padding":3,"labelOffset":9,"strokeColor":"#44bb44"}}}},
  {"data":{"name":"zte"},"mark":{"type":"point","shape":"M-1,-1H1V1H-1Z M0,-1V1H1V-1Z","filled":true,"size":64,"strokeWidth":1.2,"opacity":1},
   "encoding":{"color":{"field":"xe","type":"nominal","scale":{"domain":["x = 0","x = 0.01","x = 0.02","x = 0.05","x = 0.075","x = 0.1","x = 0.118"],"range":["#000000","#ff1a1a","#1f4fe0","#ff6a1a","#6a2ad6","#b845f0","#1e9a1e"]},
    "legend":{"title":null,"orient":"none","legendX":5,"legendY":1,"columns":1,"symbolSize":64,"labelFontSize":12,"rowPadding":1.7,"padding":3,"strokeColor":"#e0409a","labelOffset":3,"symbolStrokeWidth":1.2}},
    "stroke":{"field":"xe","type":"nominal","scale":{"domain":["x = 0","x = 0.01","x = 0.02","x = 0.05","x = 0.075","x = 0.1","x = 0.118"],"range":["#000000","#ff1a1a","#1f4fe0","#ff6a1a","#6a2ad6","#b845f0","#1e9a1e"]},"legend":null}}},
  {"data":{"name":"arrow"},"mark":{"type":"line","color":"#66dd66","strokeDash":[4,3],"strokeWidth":2}},
  {"data":{"name":"arrow"},"transform":[{"filter":"datum.zt>1"}],"mark":{"type":"point","shape":"triangle-up","angle":21,"size":110,"filled":false,"color":"#66dd66","strokeWidth":2}},
  {"data":{"name":"notesi"},"transform":[{"filter":"datum.lab=='T = 823 K'"}],"mark":{"type":"text","color":"#5a7a30","fontSize":15,"fontWeight":"bold"},
   "encoding":{"text":{"field":"lab","type":"nominal"}}},
  {"data":{"name":"notesi"},"transform":[{"filter":"datum.lab=='Experimental'"}],"mark":{"type":"text","color":"#e0409a","fontSize":13,"fontWeight":"bold"},
   "encoding":{"text":{"field":"lab","type":"nominal"}}},
  {"data":{"name":"notesi"},"transform":[{"filter":"datum.lab=='Predicted'"}],"mark":{"type":"text","color":"#33aa33","fontSize":13,"fontWeight":"bold"},
   "encoding":{"text":{"field":"lab","type":"nominal"}}}
 ]}
],
"columns":3,
"spacing":{"row":55,"column":53},
"bounds":"flush"
}
